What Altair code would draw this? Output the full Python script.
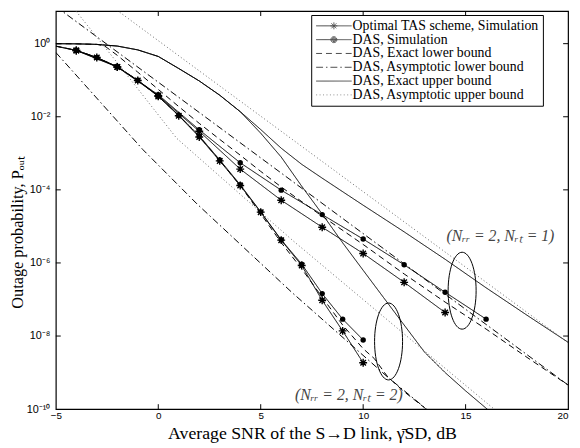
import altair as alt
import pandas as pd

W, H = 519.5, 403.7

series_names = [
    "Optimal TAS scheme, Simulation",
    "DAS, Simulation",
    "DAS, Exact lower bound",
    "DAS, Asymptotic lower bound",
    "DAS, Exact upper bound",
    "DAS, Asymptotic upper bound",
]
dash_styles = [[1, 0], [1, 0], [6, 4], [7, 3, 1.5, 3], [1, 0], [1, 2.5]]
line_colors = ["black", "black", "black", "black", "black", "#666666"]
legend_paths = [
    "M-1,0L5,0M1.42,0L2.58,0M2,-0.58L2,0.58M1.59,-0.41L2.41,0.41M1.59,0.41L2.41,-0.41",
    "M-1,0L5,0M1.5,0A0.5,0.5 0 1,0 2.5,0A0.5,0.5 0 1,0 1.5,0M1.67,0A0.33,0.33 0 1,0 2.33,0A0.33,0.33 0 1,0 1.67,0M1.83,0A0.17,0.17 0 1,0 2.17,0A0.17,0.17 0 1,0 1.83,0",
    "M-1,0L5,0",
    "M-1,0L5,0",
    "M-1,0L5,0",
    "M-1,0L5,0",
]

# ---- simulations ----
snr_nrt2 = [-5, -4, -3, -2, -1, 0, 1, 2, 3, 4, 5, 6, 7, 8, 9, 10]
tas_nrt2 = [0.85, 0.65, 0.42, 0.23, 0.098, 0.036, 0.0107, 2.8e-3, 6.2e-4, 1.32e-4,
            2.45e-5, 4.2e-6, 8.5e-7, 9.5e-8, 1.38e-8, 1.86e-9]
das_nrt2 = [0.86, 0.66, 0.42, 0.235, 0.1, 0.037, 0.011, 3.0e-3, 6.6e-4, 1.38e-4,
            2.5e-5, 4.3e-6, 9.3e-7, 1.45e-7, 2.9e-8, 7.8e-9]
snr_tas_nrt1 = [-4, -2, 0, 2, 4, 6, 8, 10, 12, 14]
tas_nrt1 = [0.65, 0.23, 0.038, 4.0e-3, 3.7e-4, 5.2e-5, 9.5e-6, 1.82e-6, 2.95e-7, 4.4e-8]
snr_das_nrt1 = [-4, -2, 0, 2, 4, 6, 8, 10, 12, 14, 16]
das_nrt1 = [0.66, 0.235, 0.04, 4.4e-3, 5.5e-4, 9.8e-5, 2.1e-5, 4.5e-6, 8.9e-7, 1.58e-7, 2.9e-8]

# ---- bounds ----
lo_ex1_x = [-5, -4, -3, -2.62, -2, -1, 0, 1, 2, 3, 4, 5, 6, 8, 10, 12, 14, 16, 18, 20]
lo_ex1_p = [1.0, 0.99, 0.955, 0.87, 0.48, 0.166, 0.056, 0.019, 6.6e-3, 2.4e-3,
            8.9e-4, 3.2e-4, 1.2e-4, 1.9e-5, 3.2e-6, 5.0e-7, 8.5e-8, 1.55e-8, 2.6e-9, 4.57e-10]
lo_as1_x = [-5, 20]
lo_as1_p = [10.4, 4.57e-10]
lo_ex2_x = [-5, -4, -3, -2, -1, 0, 1, 2, 3, 4, 5, 6, 7, 8, 9, 10, 10.55, 11.2, 12, 13.3]
lo_ex2_p = [0.855, 0.655, 0.42, 0.232, 0.099, 0.0365, 0.0108, 2.9e-3, 6.4e-4, 1.3e-4,
            2.2e-5, 3.6e-6, 6.9e-7, 1.15e-7, 2.0e-8, 4.5e-9, 2.4e-9, 7.6e-10,
            3.0e-10, 8e-11]
lo_as2_x = [-5, -0.75, 1.9, 6.55, 11.19, 13.3]
lo_as2_p = [0.575, 1.26e-3, 4.07e-5, 1.51e-7, 7.59e-10, 8e-11]
up_ex1_x = [-5, -4, -3, -2, -1, 0, 1, 2, 3, 4, 5, 6, 7, 8, 9, 10, 12, 14, 16, 18, 20]
up_ex1_p = [1.0, 0.99, 0.955, 0.86, 0.676, 0.447, 0.209, 0.0955, 0.0389, 0.0138,
            4.47e-3, 1.38e-3, 5.0e-4, 2.09e-4, 8.9e-5, 3.8e-5, 7.1e-6, 1.26e-6,
            2.09e-7, 3.7e-8, 6.76e-9]
up_ex2_x = [-5, -4, -3, -2, -1, 0, 1, 2, 3, 4, 5, 6, 7, 8, 9, 10, 11, 12, 13, 14, 15, 16.1]
up_ex2_p = [1.0, 0.99, 0.955, 0.86, 0.676, 0.447, 0.209, 0.0955, 0.0389, 0.0138,
            3.55e-3, 7.9e-4, 1.26e-4, 2.19e-5, 3.55e-6, 6.3e-7, 1.12e-7, 2.0e-8,
            3.6e-9, 1.0e-9, 3.16e-10, 9.5e-11]
up_as1_x = [-5, 20]
up_as1_p = [140.6, 6.6e-9]
up_as2_x = [-4, -1.82, 0.9, 6.55, 13.44, 16.6]
up_as2_p = [7.6, 0.224, 2.57e-3, 4.17e-6, 2.4e-9, 8e-11]

# ---- annotations ----
note_text = ["(Nᵣᵣ = 2, Nᵣₜ = 1)", "(Nᵣᵣ = 2, Nᵣₜ = 2)"]
note_x = [16.7, 9.3]
note_p = [5.4e-6, 2.4e-10]
ell_x = [14.83, 11.24]
ell_p = [1.74e-7, 7.1e-9]

x_ticks = [0, 5, 10, 15]
x_axis_ticks = [-5, 0, 5, 10, 15, 20]
y_ticks = [1, 1e-2, 1e-4, 1e-6, 1e-8]
y_axis_ticks = [1e-10, 1e-8, 1e-6, 1e-4, 1e-2, 1]
y_tick_labels = ["10⁻¹⁰", "10⁻⁸", "10⁻⁶", "10⁻⁴", "10⁻²", "10⁰"]

# ---- build tables ----
rows = []
def add(name, curve, xs, ps):
    for a, b in zip(xs, ps):
        rows.append({"x": a, "p": b, "series": name, "curve": curve})

add(series_names[0], "tas2", snr_nrt2, tas_nrt2)
add(series_names[1], "das2", snr_nrt2, das_nrt2)
add(series_names[0], "tas1", snr_tas_nrt1, tas_nrt1)
add(series_names[1], "das1", snr_das_nrt1, das_nrt1)
add(series_names[2], "lo1", lo_ex1_x, lo_ex1_p)
add(series_names[2], "lo2", lo_ex2_x, lo_ex2_p)
add(series_names[3], "la1", lo_as1_x, lo_as1_p)
add(series_names[3], "la2", lo_as2_x, lo_as2_p)
add(series_names[4], "up1", up_ex1_x, up_ex1_p)
add(series_names[4], "up2", up_ex2_x, up_ex2_p)
add(series_names[5], "ua1", up_as1_x, up_as1_p)
add(series_names[5], "ua2", up_as2_x, up_as2_p)
lines_df = pd.DataFrame(rows)

stars = pd.DataFrame({"x": snr_nrt2 + snr_tas_nrt1, "p": tas_nrt2 + tas_nrt1})
stars = stars[stars.x > -5]
dots = pd.DataFrame({"x": snr_nrt2 + snr_das_nrt1, "p": das_nrt2 + das_nrt1})
dots = dots[dots.x > -5]

legend_df = pd.DataFrame({"x": [-100] * 6, "p": [1] * 6, "series": series_names})
notes_df = pd.DataFrame({"x": note_x, "p": note_p, "t": note_text})
ell_df = pd.DataFrame({"x": ell_x, "p": ell_p})
xt_df = pd.DataFrame({"x": x_ticks})
yt_df = pd.DataFrame({"p": y_ticks})

xscale = alt.Scale(domain=[-5, 20], nice=False)
yscale = alt.Scale(type="log", domain=[1e-10, 7.8], nice=False)

lab_expr = "[" + ",".join("'%s'" % s for s in y_tick_labels) + "][round(log(datum.value)/LN10/2)+5]"

X = alt.X("x:Q", scale=xscale,
          axis=alt.Axis(values=x_axis_ticks, ticks=False, tickSize=0, grid=False, domain=False,
                        labelFont="Liberation Sans", labelFontSize=10, labelPadding=2,
                        labelFlush=False, labelColor="black",
                        labelAlign={"condition": {"test": "datum.value == 20", "value": "right"},
                                    "value": "center"},
                        title="Average SNR of the S→D link, γ̄SD, dB",
                        titleFont="Liberation Serif",
                        titleFontSize=18, titleFontWeight="normal", titleColor="black",
                        titleY=30, titleBaseline="alphabetic"))
Y = alt.Y("p:Q", scale=yscale,
          axis=alt.Axis(values=y_axis_ticks, ticks=False, tickSize=0, grid=False, domain=False,
                        labelExpr=lab_expr, labelFont="Liberation Sans", labelFontSize=11,
                        labelPadding=6, labelColor="black",
                        title="Outage probability, Pₒᵤₜ", titleFont="Liberation Serif",
                        titleFontSize=16.5, titleFontWeight="normal", titleColor="black",
                        titleX=-34, titleY=224, titleBaseline="alphabetic", titleAlign="center"))

dash_scale = alt.Scale(domain=series_names, range=dash_styles)
color_scale = alt.Scale(domain=series_names, range=line_colors)
shape_scale = alt.Scale(domain=series_names, range=legend_paths)

leg = alt.Legend(title=None, orient="none", legendX=259, legendY=4, padding=4,
                 strokeColor="black", fillColor="white", cornerRadius=0,
                 labelFont="Liberation Serif", labelFontSize=14, labelColor="black",
                 labelOffset=24, symbolSize=144, symbolStrokeWidth=1, rowPadding=0,
                 labelLimit=400)

lines = alt.Chart(lines_df).mark_line(strokeWidth=1, clip=True).encode(
    x=X, y=Y,
    strokeDash=alt.StrokeDash("series:N", scale=dash_scale, legend=leg),
    color=alt.Color("series:N", scale=color_scale, legend=leg),
    detail="curve:N",
    order=alt.Order("x:Q"),
)

legend_layer = alt.Chart(legend_df).mark_point(clip=True, filled=False, strokeWidth=1).encode(
    x=X, y=Y,
    shape=alt.Shape("series:N", scale=shape_scale, legend=leg),
    strokeDash=alt.StrokeDash("series:N", scale=dash_scale, legend=leg),
    color=alt.Color("series:N", scale=color_scale, legend=leg),
)

star_path = "M-1,0L1,0M0,-1L0,1M-0.7,-0.7L0.7,0.7M-0.7,0.7L0.7,-0.7"
star_layer = alt.Chart(stars).mark_point(shape=star_path, size=64, strokeWidth=1.4,
                                          color="black", filled=False, opacity=1, clip=True).encode(x=X, y=Y)
dot_layer = alt.Chart(dots).mark_circle(size=30, color="black", opacity=1, clip=True).encode(x=X, y=Y)

ell_path = "M-0.364,0A0.364,1 0 1,0 0.364,0A0.364,1 0 1,0 -0.364,0"
ell_layer = alt.Chart(ell_df).mark_point(shape=ell_path, size=6084, strokeWidth=1,
                                          color="black", filled=False, opacity=1).encode(x=X, y=Y)

notes = alt.Chart(notes_df).mark_text(font="Liberation Serif", fontSize=16, fontStyle="italic",
                                       color="#444444").encode(x=X, y=Y, text="t:N")

tick_top = alt.Chart(xt_df).mark_rule(color="black", strokeWidth=1).encode(
    x=alt.X("x:Q", scale=xscale), y=alt.value(0), y2=alt.value(5))
tick_bot = alt.Chart(xt_df).mark_rule(color="black", strokeWidth=1).encode(
    x=alt.X("x:Q", scale=xscale), y=alt.value(H - 5), y2=alt.value(H))
tick_left = alt.Chart(yt_df).mark_rule(color="black", strokeWidth=1).encode(
    y=alt.Y("p:Q", scale=yscale), x=alt.value(0), x2=alt.value(5))
tick_right = alt.Chart(yt_df).mark_rule(color="black", strokeWidth=1).encode(
    y=alt.Y("p:Q", scale=yscale), x=alt.value(W - 5), x2=alt.value(W))

chart = alt.layer(
    lines, star_layer, dot_layer, ell_layer, notes, tick_top, tick_bot, tick_left, tick_right,
    legend_layer,
).properties(
    width=W, height=H,
    padding={"left": 48.5, "top": 0, "right": 4, "bottom": 36},
    autosize=alt.AutoSizeParams(type="none"),
    background="white",
).configure_view(stroke="black", strokeWidth=1.2).configure_axis(labelFontWeight="normal")

chart.save("out.html", embed_options={"renderer": "svg", "actions": False})
